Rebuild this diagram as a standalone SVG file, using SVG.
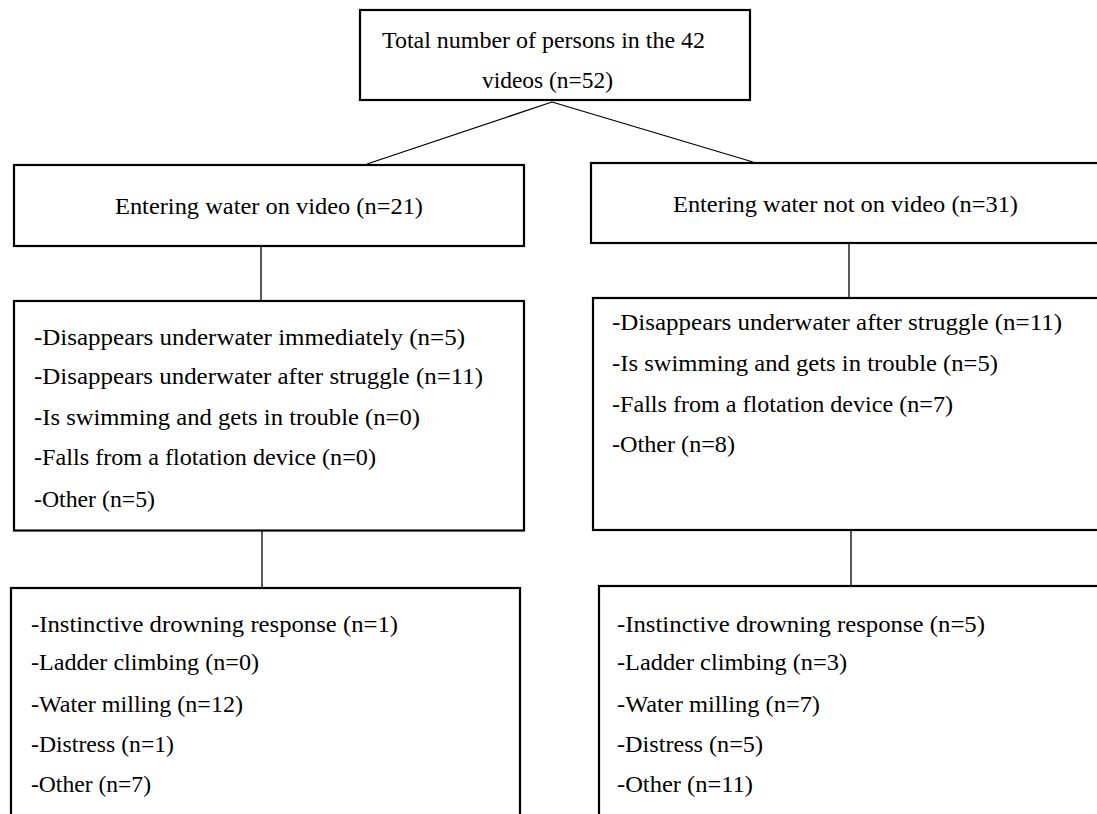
<svg xmlns="http://www.w3.org/2000/svg" width="1097" height="814" viewBox="0 0 1097 814">
<style>
.box{fill:#fff;stroke:#000;stroke-width:2.2}
.t{font-family:"Liberation Serif","Times New Roman",serif;font-size:23px;fill:#000}
.c{stroke:#000;stroke-width:1.3;fill:none}
</style>
<rect width="1097" height="814" fill="#fff"/>
<g id="connectors">
<line class="c" x1="552" y1="102" x2="367" y2="164"/>
<line class="c" x1="552" y1="102" x2="753" y2="162"/>
<line class="c" x1="261" y1="246" x2="261" y2="301"/>
<line class="c" x1="849" y1="243" x2="849" y2="298"/>
<line class="c" x1="262" y1="531" x2="262" y2="588"/>
<line class="c" x1="851" y1="530" x2="851" y2="586"/>
</g>
<g id="total">
<rect class="box" x="360" y="10" width="390" height="90"/>
<text class="t" x="382" y="48" textLength="323" lengthAdjust="spacingAndGlyphs">Total number of persons in the 42</text>
<text class="t" x="482" y="88" textLength="131" lengthAdjust="spacingAndGlyphs">videos (n=52)</text>
</g>
<g id="on-video">
<rect class="box" x="14" y="165" width="510" height="81"/>
<text class="t" x="115" y="214" textLength="308" lengthAdjust="spacingAndGlyphs">Entering water on video (n=21)</text>
</g>
<g id="not-on-video">
<rect class="box" x="591" y="163" width="520" height="80"/>
<text class="t" x="673" y="212" textLength="345" lengthAdjust="spacingAndGlyphs">Entering water not on video (n=31)</text>
</g>
<g id="on-video-entry">
<rect class="box" x="14" y="301" width="510" height="229.5"/>
<text class="t" x="34" y="345" textLength="431" lengthAdjust="spacingAndGlyphs">-Disappears underwater immediately (n=5)</text>
<text class="t" x="34" y="384" textLength="449" lengthAdjust="spacingAndGlyphs">-Disappears underwater after struggle (n=11)</text>
<text class="t" x="34" y="425" textLength="386" lengthAdjust="spacingAndGlyphs">-Is swimming and gets in trouble (n=0)</text>
<text class="t" x="34" y="465" textLength="342" lengthAdjust="spacingAndGlyphs">-Falls from a flotation device (n=0)</text>
<text class="t" x="34" y="507" textLength="121" lengthAdjust="spacingAndGlyphs">-Other (n=5)</text>
</g>
<g id="not-on-video-entry">
<rect class="box" x="593" y="298" width="520" height="232"/>
<text class="t" x="612" y="330" textLength="450" lengthAdjust="spacingAndGlyphs">-Disappears underwater after struggle (n=11)</text>
<text class="t" x="612" y="371" textLength="386" lengthAdjust="spacingAndGlyphs">-Is swimming and gets in trouble (n=5)</text>
<text class="t" x="612" y="412" textLength="341" lengthAdjust="spacingAndGlyphs">-Falls from a flotation device (n=7)</text>
<text class="t" x="612" y="452" textLength="123" lengthAdjust="spacingAndGlyphs">-Other (n=8)</text>
</g>
<g id="on-video-response">
<rect class="box" x="11" y="588" width="509" height="240"/>
<text class="t" x="31" y="632" textLength="367" lengthAdjust="spacingAndGlyphs">-Instinctive drowning response (n=1)</text>
<text class="t" x="31" y="670" textLength="228" lengthAdjust="spacingAndGlyphs">-Ladder climbing (n=0)</text>
<text class="t" x="31" y="712" textLength="212" lengthAdjust="spacingAndGlyphs">-Water milling (n=12)</text>
<text class="t" x="31" y="752" textLength="143" lengthAdjust="spacingAndGlyphs">-Distress (n=1)</text>
<text class="t" x="31" y="792" textLength="120" lengthAdjust="spacingAndGlyphs">-Other (n=7)</text>
</g>
<g id="not-on-video-response">
<rect class="box" x="599" y="586" width="520" height="240"/>
<text class="t" x="617" y="632" textLength="368" lengthAdjust="spacingAndGlyphs">-Instinctive drowning response (n=5)</text>
<text class="t" x="617" y="670" textLength="230" lengthAdjust="spacingAndGlyphs">-Ladder climbing (n=3)</text>
<text class="t" x="617" y="712" textLength="203" lengthAdjust="spacingAndGlyphs">-Water milling (n=7)</text>
<text class="t" x="617" y="752" textLength="146" lengthAdjust="spacingAndGlyphs">-Distress (n=5)</text>
<text class="t" x="617" y="792" textLength="136" lengthAdjust="spacingAndGlyphs">-Other (n=11)</text>
</g>
</svg>
